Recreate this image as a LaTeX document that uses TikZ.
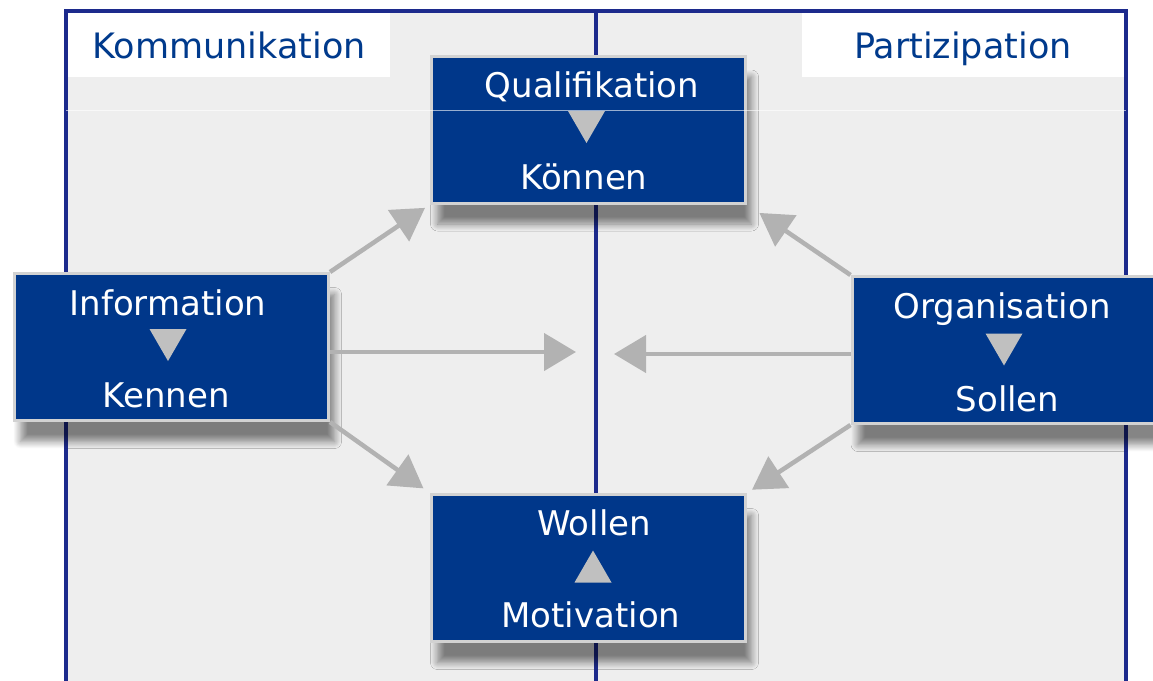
\documentclass[tikz,border=0pt]{standalone}
\usepackage{fontspec}
\setmainfont{DejaVu Sans}
\usetikzlibrary{arrows.meta,shadows.blur,positioning}
\definecolor{boxblue}{HTML}{00378A}
\definecolor{framenavy}{HTML}{1C2A8C}
\definecolor{labelblue}{HTML}{003A8C}
\definecolor{arrowgray}{HTML}{B2B2B2}
\definecolor{panelgray}{HTML}{EEEEEE}
\definecolor{rimgray}{HTML}{D2D2D2}
\definecolor{tipgray}{HTML}{C0C0C0}
\newcommand{\boxw}{314pt}
\newcommand{\boxh}{147pt}
% gray triangle inside a box: #1,#2 = centre, #3 = 1 (down) or -1 (up)
\newcommand{\marker}[3]{\fill[tipgray] ({#1-18.5},{#2-#3*16}) -- ({#1+18.5},{#2-#3*16}) -- ({#1},{#2+#3*16}) -- cycle;}

\tikzset{
  factor/.style={rectangle, fill=boxblue, draw=rimgray, line width=3pt,
    minimum width=\boxw, minimum height=\boxh, inner sep=0pt,
    blur shadow={shadow xshift=6pt, shadow yshift=-21pt, shadow blur radius=7pt,
      shadow blur steps=10, shadow opacity=48}},
  word/.style={text=white, font=\fontsize{34}{40}\selectfont, inner sep=0pt, anchor=base},
  field/.style={fill=white, text=labelblue, font=\fontsize{35}{42}\selectfont,
    minimum width=322pt, minimum height=64pt, text height=26pt, text depth=0pt,
    anchor=north west, inner sep=0pt},
  flow/.style={draw=arrowgray, line width=4.5pt, -{Triangle[length=32pt,width=37pt]}},
}

\begin{document}
\begin{tikzpicture}[x=1pt, y=-1pt]
  \useasboundingbox (0,0) rectangle (1153,680);
  \clip (0,0) rectangle (1153,680);

  % the two fields
  \draw[fill=panelgray, draw=framenavy, line width=4pt] (66,11) rectangle (1126,720);
  \draw[framenavy, line width=4pt] (596,11) -- (596,720);
  \node[field] (komm) at (68,13) {Kommunikation};
  \node[field, anchor=north east] (parti) at (1124,13) {Partizipation};

  % the four boxes
  \node[factor] (qual) at (588.5,129.5) {};
  \node[factor] (info) at (171.5,347) {};
  \node[factor] (orga) at (1009,350) {};
  \node[factor] (woll) at (588.5,568) {};

  \node[word] (qualA) at (592,97) {Qualifikation};
  \node[word] (qualB) at (584,189) {Können};
  \marker{586.5}{127}{1}
  \node[word] (infoA) at (168,315) {Information};
  \node[word] (infoB) at (166,407) {Kennen};
  \marker{168}{345}{1}
  \node[word] (orgaA) at (1002,318) {Organisation};
  \node[word] (orgaB) at (1007.5,411) {Sollen};
  \marker{1004}{349.5}{1}
  \node[word] (wollA) at (594,535) {Wollen};
  \node[word] (wollB) at (591,627) {Motivation};
  \marker{593}{566.5}{-1}

  \draw[white, line width=1pt, opacity=0.6] (66,110) -- (1126,110);

  % arrows
  \coordinate (hubL) at (576,352);
  \coordinate (hubR) at (614,354);
  \draw[flow, shorten >=6pt] (info.north east) -- (qual.south west);
  \draw[flow] (info.east |- hubL) -- (hubL);
  \draw[flow, shorten >=8pt] (info.south east) -- (woll.north west);
  \draw[flow, shorten >=15pt] (orga.north west) -- (qual.south east);
  \draw[flow] (orga.west |- hubR) -- (hubR);
  \draw[flow, shorten >=6pt] (orga.south west) -- (woll.north east);
\end{tikzpicture}
\end{document}
